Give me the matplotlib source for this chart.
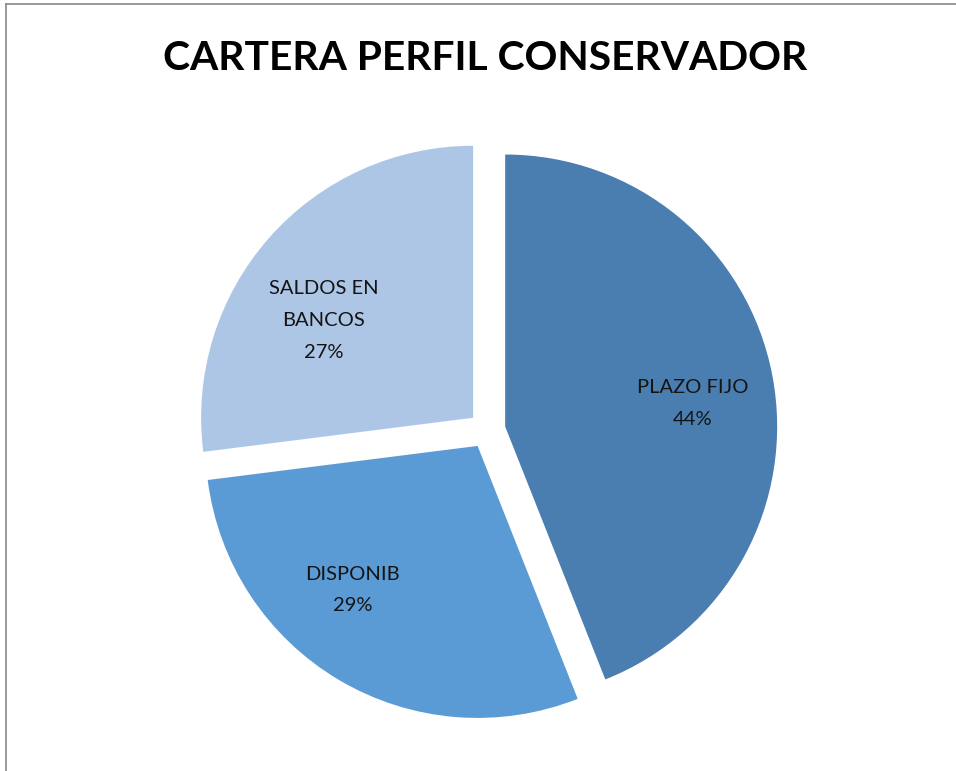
import matplotlib.pyplot as plt
from matplotlib.lines import Line2D

# data
categories = ["PLAZO FIJO", "DISPONIB", "SALDOS EN\nBANCOS"]
shares = [44, 29, 27]
colors = ["#4A7EB1", "#5B9BD5", "#ADC6E6"]
title = "CARTERA PERFIL CONSERVADOR"

W, H = 956, 771
fig = plt.figure(figsize=(W / 100, H / 100), dpi=100)

# pie centre and radius in pixels (from the top-left corner)
cx, cy, rad = 487, 430, 272
half = 1.2 * rad
ax = fig.add_axes([(cx - half) / W, (H - cy - half) / H, 2 * half / W, 2 * half / H])


def fmt(pct):
    return f"{pct:.0f}%"


wedges, texts, autotexts = ax.pie(
    shares,
    colors=colors,
    startangle=90,
    counterclock=False,
    explode=[0.068] * len(shares),
    autopct=fmt,
    pctdistance=0.69,
    wedgeprops=dict(linewidth=0),
)

# label placement inside each slice, relative to the slice tip (radius units)
label_offsets = [(0.69, 0.085), (-0.46, -0.53), (-0.55, 0.357)]
for t, w, name, off in zip(autotexts, wedges, categories, label_offsets):
    t.set_text(f"{name}\n{t.get_text()}")
    t.set_fontfamily("Lato")
    t.set_fontsize(14.5)
    t.set_color("#141414")
    t.set_linespacing(2.05)
    x0, y0 = w.center
    t.set_position((x0 + off[0], y0 + off[1]))

ax.set_xlim(-1.2, 1.2)
ax.set_ylim(-1.2, 1.2)

fig.text(485 / W, 1 - 58 / H, title, ha="center", va="center",
         fontfamily="Lato", fontweight="bold", fontsize=29.3)

# thin frame on the top and left edges
fig.add_artist(Line2D([6 / W, 1], [1 - 4 / H, 1 - 4 / H], color="#888888", lw=1.2))
fig.add_artist(Line2D([6 / W, 6 / W], [0, 1 - 4 / H], color="#888888", lw=1.2))

fig.savefig("out.png", dpi=100)
